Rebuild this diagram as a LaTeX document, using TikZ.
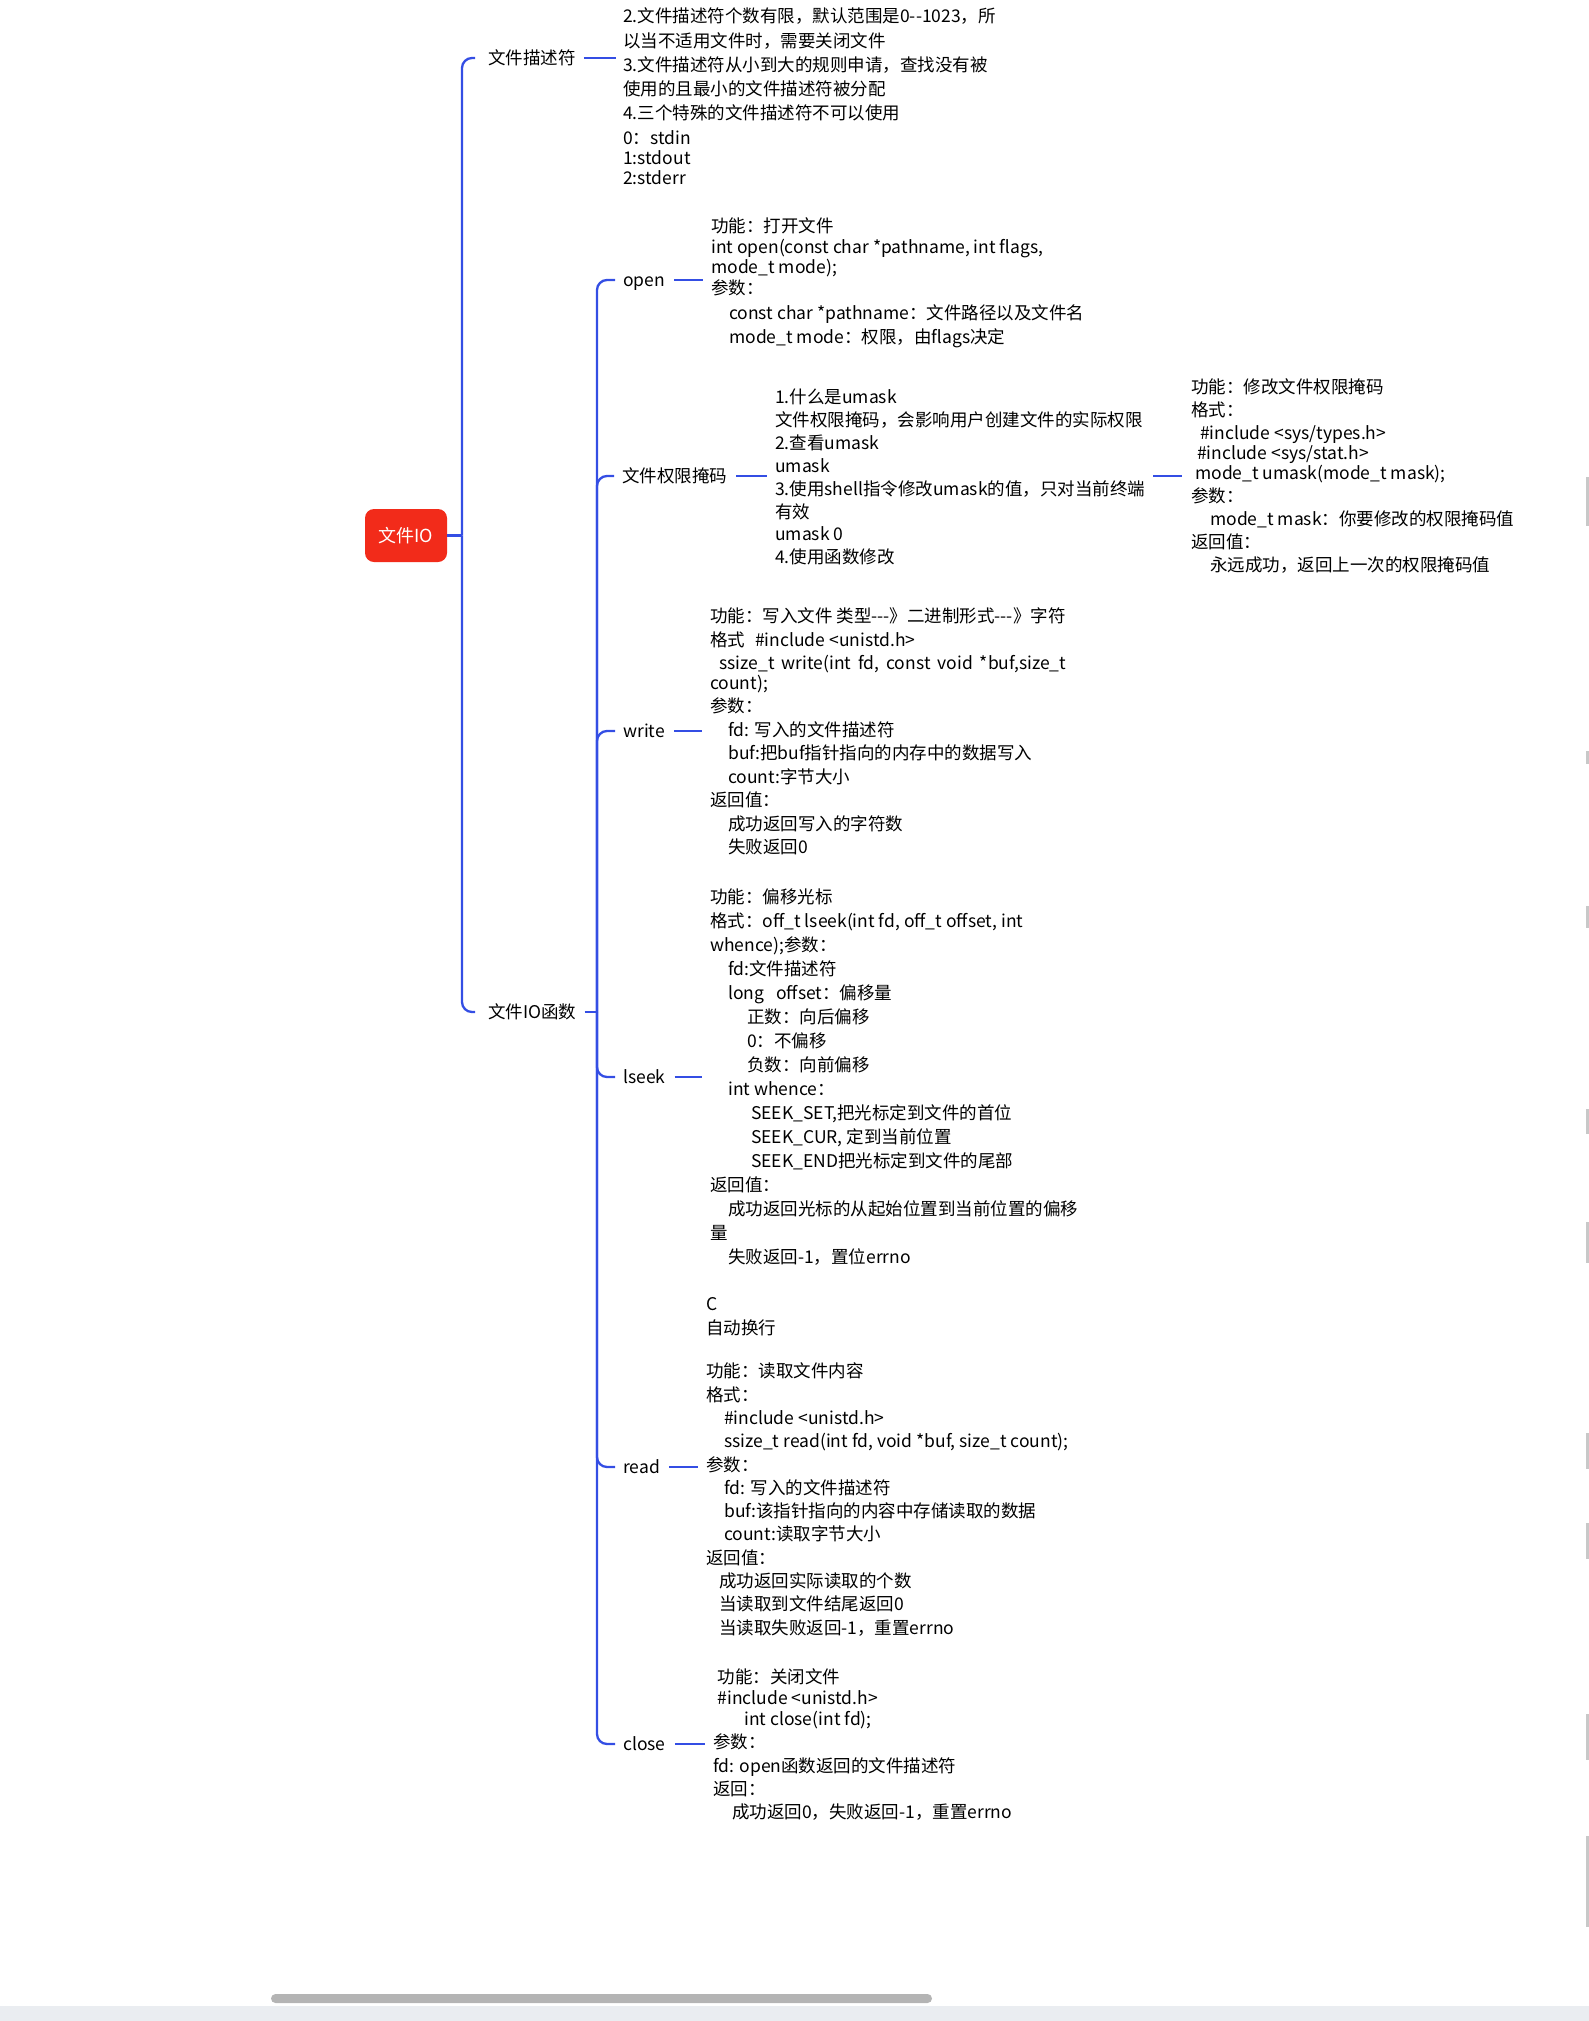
\documentclass[tikz,border=0pt]{standalone}
\usepackage{fontspec}
\setmainfont{Noto Sans CJK SC}[Ligatures=TeXOff]
\definecolor{branch}{RGB}{52,78,228}
\definecolor{rootred}{RGB}{242,43,26}
\definecolor{uigrey}{RGB}{234,237,241}
\definecolor{scrollgrey}{RGB}{180,180,180}
\definecolor{edgegrey}{RGB}{200,200,200}
\newcommand\myind[1]{\hspace*{#1pt}}
\newcommand\fst{\rule{0pt}{15.75pt}}
\begin{document}
\begin{tikzpicture}[x=1pt,y=-1pt,
  lbl/.style={anchor=west, inner sep=0pt, text height=14pt, text depth=2pt,
              font=\fontsize{17.5pt}{21pt}\selectfont},
  blk/.style={anchor=north west, inner sep=0pt, align=left,
              font=\fontsize{17.5pt}{#1}\selectfont},
  con/.style={draw=branch, line width=2.3pt},
  rootbox/.style={fill=rootred, rounded corners=9pt, minimum width=82pt,
              minimum height=53pt, inner sep=0pt, text=white,
              font=\fontsize{18pt}{18pt}\selectfont}]
\useasboundingbox (0,0) rectangle (1589,2021);
% UI chrome
\fill[uigrey] (0,2006) rectangle (1589,2021);
\fill[scrollgrey, rounded corners=4.5pt] (271,1994) rectangle (932,2003);
\foreach \a/\b in {477/526, 751/764, 906/928, 1109/1134, 1222/1263, 1433/1469, 1523/1559, 1714/1760, 1836/1927}{
  \fill[edgegrey] (1586,\a) rectangle (1588.5,\b);
}

% root
\node[rootbox] (root) at (406,535.5) {文件IO};
\coordinate (j1) at (462,535.5);

% level 1
\node[lbl] (d1) at (488,58) {文件描述符};
\node[lbl] (f1) at (488,1012) {文件IO函数};
\coordinate (j2) at (597,1012);

% level 2 labels
\node[lbl] (op) at (623,280) {open};
\node[lbl] (um) at (622,476) {文件权限掩码};
\node[lbl] (wr) at (623,731) {write};
\node[lbl] (ls) at (623,1077) {lseek};
\node[lbl] (rd) at (623,1467) {read};
\node[lbl] (cl) at (623,1744) {close};

% text blocks
\node[blk=24.25pt] (b1) at (623,6.85) {\fst 2.文件描述符个数有限，默认范围是0--1023，所\\
以当不适用文件时，需要关闭文件\\
3.文件描述符从小到大的规则申请，查找没有被\\
使用的且最小的文件描述符被分配\\
4.三个特殊的文件描述符不可以使用\\
0：stdin\\[-4.25pt]
1:stdout\\[-4.25pt]
2:stderr};

\node[blk=21pt] (bop) at (711,216.85) {\fst 功能：打开文件\\
int open(const char *pathname, int flags,\\[-1pt]
mode\_t mode);\\
参数：\\[4pt]
\myind{18}const char *pathname：文件路径以及文件名\\[3pt]
\myind{18}mode\_t mode：权限，由flags决定};

\node[blk=22.86pt] (bum) at (775,387.85) {\fst 1.什么是umask\\
文件权限掩码，会影响用户创建文件的实际权限\\
2.查看umask\\
umask\\
3.使用shell指令修改umask的值，只对当前终端\\
有效\\
umask 0\\
4.使用函数修改};

\node[blk=23pt] (bfn) at (1191,377.85) {\fst 功能：修改文件权限掩码\\
格式：\\
\myind{9}\#include <sys/types.h>\\[-3pt]
\myind{6}\#include <sys/stat.h>\\[-3pt]
\myind{4}mode\_t umask(mode\_t mask);\\
参数：\\
\myind{19}mode\_t mask：你要修改的权限掩码值\\
返回值：\\
\myind{19}永远成功，返回上一次的权限掩码值};

\node[blk=23.5pt] (bwr) at (710,606.85) {\fst 功能：写入文件 类型---》二进制形式---》字符\\
格式\hspace{10pt}\#include <unistd.h>\\
\myind{9}ssize\_t\hspace{7pt}write(int\hspace{7pt}fd,\hspace{7pt}const\hspace{7pt}void\hspace{7pt}*buf,size\_t\\[-4pt]
count);\\
参数：\\
\myind{18}fd: 写入的文件描述符\\
\myind{18}buf:把buf指针指向的内存中的数据写入\\
\myind{18}count:字节大小\\
返回值：\\
\myind{18}成功返回写入的字符数\\
\myind{18}失败返回0};

\node[blk=24pt] (bls) at (710,887.85) {\fst 功能：偏移光标\\
格式：off\_t lseek(int fd, off\_t offset, int\\
whence);参数：\\
\myind{18}fd:文件描述符\\
\myind{18}long\hspace{12pt}offset：偏移量\\
\myind{37}正数：向后偏移\\
\myind{37}0：不偏移\\
\myind{37}负数：向前偏移\\
\myind{18}int whence：\\
\myind{41}SEEK\_SET,把光标定到文件的首位\\
\myind{41}SEEK\_CUR, 定到当前位置\\
\myind{41}SEEK\_END把光标定到文件的尾部\\
返回值：\\
\myind{18}成功返回光标的从起始位置到当前位置的偏移\\
量\\
\myind{18}失败返回-1，置位errno};

\node[blk=23.3pt] (brd) at (706,1294.85) {\fst C\\
自动换行\\[20.4pt]
功能：读取文件内容\\
格式：\\
\myind{18}\#include <unistd.h>\\
\myind{18}ssize\_t read(int fd, void *buf, size\_t count);\\
参数：\\
\myind{18}fd: 写入的文件描述符\\
\myind{18}buf:该指针指向的内容中存储读取的数据\\
\myind{18}count:读取字节大小\\
返回值：\\
\myind{13}成功返回实际读取的个数\\
\myind{13}当读取到文件结尾返回0\\
\myind{13}当读取失败返回-1，重置errno};

\node[blk=23.3pt] (bcl) at (713,1667.85) {\fst\myind{4.5}功能：关闭文件\\[-2.5pt]
\myind{4.5}\#include <unistd.h>\\[-2.5pt]
\myind{31}int close(int fd);\\
参数：\\
fd: open函数返回的文件描述符\\
返回：\\
\myind{19}成功返回0，失败返回-1，重置errno};

% connectors
\draw[con] (root.east) -- (j1);
\draw[con, rounded corners=10pt, shorten >=13pt] (j1) |- (d1.west);
\draw[con, rounded corners=10pt, shorten >=13pt] (j1) |- (f1.west);
\draw[con, shorten <=8pt, shorten >=7pt] (d1.east) -- (d1.east -| b1.west);
\draw[con, shorten <=8pt] (f1.east) -- (j2);

\foreach \l in {op,um,wr,ls,rd,cl}{
  \draw[con, rounded corners=10pt, shorten >=8pt] (j2) |- (\l.west);
}
\draw[con, shorten <=9pt, shorten >=8pt] (op.east) -- (op.east -| bop.west);
\draw[con, shorten <=9pt, shorten >=8pt] (um.east) -- (um.east -| bum.west);
\draw[con, shorten <=9pt, shorten >=8pt] (wr.east) -- (wr.east -| bwr.west);
\draw[con, shorten <=9pt, shorten >=8pt] (ls.east) -- (ls.east -| bls.west);
\draw[con, shorten <=9pt, shorten >=8pt] (rd.east) -- (rd.east -| brd.west);
\draw[con, shorten <=9pt, shorten >=8pt] (cl.east) -- (cl.east -| bcl.west);
\draw[con, shorten <=8pt, shorten >=9pt] (um.east -| bum.east) -- (um.east -| bfn.west);
\end{tikzpicture}
\end{document}
